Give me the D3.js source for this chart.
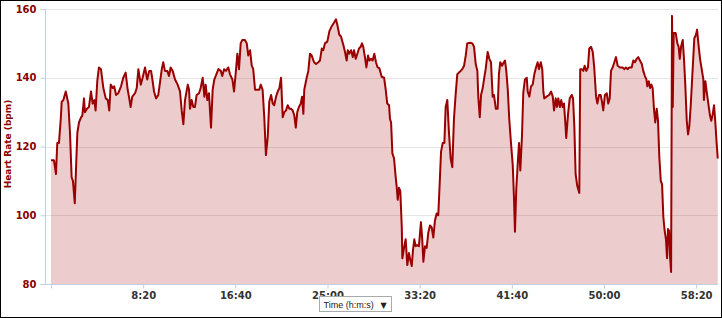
<!DOCTYPE html>
<html>
<head>
<meta charset="utf-8">
<script src="https://cdn.jsdelivr.net/npm/d3@7"></script>
<style>
  html, body { margin: 0; padding: 0; background: #fff; }
  svg { display: block; }
</style>
</head>
<body>
<div id="hrchart"></div>
<script>
// elapsed time in seconds
const timeSec = [0, 16, 27, 34, 43, 53, 58, 67, 80, 94, 103, 112, 119, 129, 136, 143, 152, 163, 170, 179,
  184, 195, 206, 217, 226, 235, 242, 251, 260, 271, 284, 297, 308, 316, 324, 335, 343, 353, 365, 380,
  392, 405, 416, 423, 432, 441, 456, 465, 474, 487, 497, 510, 522, 533, 543, 550, 559, 570, 582, 591,
  601, 609, 618, 631, 640, 649, 660, 673, 687, 700, 709, 718, 727, 742, 749, 754, 763, 772, 781, 790,
  803, 812, 823, 832, 839, 848, 857, 868, 877, 886, 890, 908, 921, 929, 939, 949, 962, 971, 984, 993,
  1004, 1011, 1020, 1029, 1038, 1052, 1062, 1070, 1080, 1089, 1097, 1107, 1116, 1130, 1138, 1148, 1157, 1166, 1176, 1184,
  1194, 1203, 1211, 1221, 1230, 1239, 1248, 1257, 1266, 1275, 1284, 1293, 1302, 1311, 1320, 1328, 1336, 1345, 1355, 1362,
  1369, 1374, 1387, 1396, 1405, 1414, 1427, 1438, 1450, 1459, 1469, 1477, 1486, 1499, 1510, 1523, 1535, 1546, 1553, 1564,
  1573, 1586, 1595, 1604, 1610, 1618, 1628, 1637, 1644, 1653, 1662, 1671, 1680, 1687, 1694, 1703, 1711, 1720, 1727, 1736,
  1745, 1754, 1763, 1772, 1781, 1794, 1807, 1816, 1824, 1834, 1839, 1845, 1852, 1861, 1870, 1875, 1881, 1888, 1895, 1903,
  1906, 1915, 1924, 1933, 1942, 1949, 1957, 1964, 1971, 1978, 1987, 1996, 2007, 2014, 2020, 2029, 2038, 2047, 2056, 2065,
  2074, 2083, 2092, 2101, 2110, 2116, 2125, 2134, 2141, 2150, 2159, 2168, 2177, 2186, 2195, 2204, 2213, 2223, 2231, 2241,
  2250, 2258, 2273, 2286, 2295, 2304, 2313, 2318, 2326, 2333, 2342, 2349, 2358, 2369, 2378, 2387, 2396, 2403, 2413, 2423,
  2430, 2437, 2447, 2456, 2463, 2470, 2478, 2486, 2494, 2505, 2512, 2517, 2524, 2532, 2539, 2546, 2555, 2562, 2571, 2581,
  2586, 2595, 2604, 2613, 2622, 2631, 2640, 2647, 2657, 2665, 2671, 2676, 2689, 2702, 2713, 2722, 2729, 2738, 2745, 2752,
  2761, 2768, 2776, 2783, 2790, 2795, 2805, 2814, 2825, 2832, 2839, 2846, 2855, 2866, 2871, 2879, 2888, 2895, 2904, 2913,
  2920, 2930, 2939, 2947, 2957, 2964, 2973, 2982, 2989, 2996, 3005, 3015, 3023, 3031, 3038, 3047, 3056, 3065, 3074, 3087,
  3101, 3110, 3119, 3129, 3137, 3150, 3159, 3168, 3177, 3186, 3195, 3205, 3213, 3222, 3230, 3235, 3243, 3250, 3257, 3264,
  3271, 3278, 3286, 3293, 3300, 3308, 3315, 3322, 3329, 3336, 3342, 3347, 3353, 3358, 3364, 3369, 3373, 3378, 3389, 3398,
  3405, 3411, 3418, 3427, 3434, 3441, 3449, 3456, 3463, 3470, 3477, 3484, 3490, 3499, 3505, 3512, 3521, 3530, 3539, 3542,
  3550, 3557, 3566, 3575, 3582, 3590, 3597, 3604, 3611, 3617];

// heart rate in bpm
const heartRate = [116, 116, 112, 121, 121, 128, 133, 133.5, 136, 132.5, 124, 111, 110, 103.5, 114, 124, 127, 128.5, 129, 134,
  130, 131, 131.5, 136, 132.5, 133.5, 130.5, 139, 143, 142.5, 137, 134, 133.5, 130.5, 138, 137, 137.5, 135, 135.5, 137.5,
  140, 141.5, 136.5, 134.5, 131.5, 134.5, 135.5, 137, 142.5, 138, 140, 143, 139.5, 142, 142, 139.5, 136, 134, 135, 138.5,
  142.5, 144.5, 142, 142, 140.5, 143, 142, 139.5, 138, 136, 130.5, 126.5, 133.5, 138, 136.5, 131, 133.5, 131.5, 131.5, 135,
  135.5, 137, 140, 134.5, 138, 133.5, 135.5, 125.5, 136.5, 139.5, 140, 142.5, 142, 140.5, 142.5, 142, 143, 141, 139.5, 136,
  142.5, 147, 142.5, 150, 151, 151, 150, 146.5, 148, 143.5, 142.5, 136.5, 136.5, 136.5, 138, 136.5, 128.5, 117.5, 123, 133,
  135, 132.5, 132, 134.5, 136, 137, 140, 128.5, 130, 130.5, 132, 131, 131, 130.5, 129, 125.5, 130, 131.5, 132.5, 134.5,
  129.5, 136.5, 140, 142, 147, 146.5, 144.5, 144, 144.5, 145, 148.5, 148, 150, 150.5, 153.5, 155, 156, 157, 155.5, 152.5,
  152, 149.5, 147.5, 145, 148, 147, 148, 146, 148, 145.5, 147, 148.5, 149, 150, 149, 146, 143, 146.5, 145, 145.5,
  145, 147, 144.5, 143, 142.8, 140.3, 140, 136.5, 132.5, 132, 128, 127, 118, 116.5, 111, 108.5, 104.5, 108, 107, 96.5,
  87.5, 90.5, 93, 85.5, 89, 87, 85.2, 90, 93, 91, 91.3, 91, 98, 93, 86.5, 91, 90.5, 95, 97, 96.5,
  93.5, 98.5, 100.5, 100, 111, 118.5, 121, 121, 131.5, 133.5, 124, 116.5, 114, 128, 135, 141, 141.5, 142, 142.5, 143.5,
  146.5, 150, 150.2, 150, 149, 144, 142, 134.5, 128.5, 135, 137, 139.5, 142.5, 147.5, 145.5, 144.5, 134.5, 135, 131, 131,
  141, 144.5, 143.5, 144.5, 145, 142, 136.5, 128, 122, 114.5, 104.5, 95.2, 107.5, 115, 121, 113, 123, 135.5, 139.5, 140,
  136, 134.5, 137.5, 138, 141, 143, 144.5, 142.5, 144.5, 142.5, 136, 134, 134.5, 135, 136, 134.5, 130.5, 134, 131.5, 134,
  131.5, 133.5, 131.5, 132.5, 127, 122.5, 129.5, 134, 135, 134, 126, 112, 108.5, 106.5, 142.5, 142.5, 142, 143.5, 142, 143,
  148.5, 149, 147.5, 143, 134.5, 132.5, 135, 135, 133, 130.5, 135, 135.5, 132.5, 134, 142, 143, 144.5, 146, 143.5, 143,
  143, 142.5, 143, 142.5, 143, 143, 145, 144.5, 145.5, 146, 145, 144, 142, 140.5, 139.5, 137.5, 139, 137, 138, 137,
  131, 127, 131, 127.5, 117, 110, 109, 99.5, 95.5, 93, 87.5, 96, 95.5, 88, 83.5, 158, 131.5, 153, 153, 150,
  149, 145.5, 149, 151, 145.5, 138, 127.5, 123.5, 126, 131.5, 138.5, 145.5, 151.5, 152.5, 154, 150, 145.5, 142.5, 139.5, 133.5,
  139, 136, 132.5, 129, 127.5, 129.5, 132, 127, 121, 116.5];

const yTicks = [80, 100, 120, 140, 160];
const xTicks = [0, 500, 1000, 1500, 2000, 2500, 3000, 3500];
const xTitle = "Time (h:m:s)";
const yTitle = "Heart Rate (bpm)";

const width = 722, height = 318;
const plot = {left: 51, right: 718, top: 9, bottom: 284};

const svg = d3.select("#hrchart").append("svg")
    .attr("width", width)
    .attr("height", height);

const data = timeSec.map((t, i) => ({t: t, hr: heartRate[i]}));

const x = d3.scaleLinear()
    .domain([0, 3617])
    .range([plot.left, plot.left + 3617 * 553 / 3000]);

const y = d3.scaleLinear()
    .domain([80, 160])
    .range([plot.bottom, plot.top]);

// format seconds as m:ss
function fmtTime(s) {
    let m = Math.floor(s / 60), sec = s % 60;
    return m + ":" + (sec < 10 ? "0" : "") + sec;
}

// horizontal grid lines
svg.append("g")
    .selectAll("line")
    .data(yTicks.filter(d => d > 80))
    .enter().append("line")
    .attr("x1", 45)
    .attr("x2", plot.right)
    .attr("y1", d => Math.round(y(d)) + 0.5)
    .attr("y2", d => Math.round(y(d)) + 0.5)
    .attr("stroke", "#e6e6e6")
    .attr("stroke-width", 1);

// area + line
svg.append("path")
    .datum(data)
    .attr("fill", "rgba(160, 0, 0, 0.2)")
    .attr("d", d3.area()
        .x(d => x(d.t))
        .y0(y(80))
        .y1(d => y(d.hr)));

svg.append("path")
    .datum(data)
    .attr("fill", "none")
    .attr("stroke", "#9b0000")
    .attr("stroke-width", 2)
    .attr("stroke-linejoin", "round")
    .attr("d", d3.line()
        .x(d => x(d.t))
        .y(d => y(d.hr)));

// y axis
let yAxis = svg.append("g")
    .attr("transform", "translate(45.5,0)")
    .call(d3.axisLeft(y).tickValues(yTicks).tickSize(5).tickPadding(4));
yAxis.select(".domain").attr("stroke", "#c0d0e0").attr("d", "M0," + plot.top + "V" + (plot.bottom + 0.5));
yAxis.selectAll(".tick line").attr("stroke", "#c0d0e0");
yAxis.selectAll(".tick text")
    .attr("fill", "#8b0000")
    .style("font-family", "DejaVu Sans")
    .style("font-weight", "bold")
    .style("font-size", "10px");

// x axis
let xAxis = svg.append("g")
    .attr("transform", "translate(0," + (plot.bottom + 0.5) + ")")
    .call(d3.axisBottom(x).tickValues(xTicks).tickSize(4).tickPadding(3)
        .tickFormat(d => d === 0 ? "" : fmtTime(d)));
xAxis.select(".domain").attr("stroke", "#c0d0e0").attr("d", "M45," + 0 + "H" + plot.right);
xAxis.selectAll(".tick line").attr("stroke", "#c0d0e0");
xAxis.selectAll(".tick text")
    .attr("fill", "#333")
    .style("font-family", "DejaVu Sans")
    .style("font-weight", "bold")
    .style("font-size", "10px");

// y title
svg.append("text")
    .attr("transform", "translate(11,144) rotate(-90)")
    .attr("text-anchor", "middle")
    .attr("fill", "#8b0000")
    .style("font-family", "DejaVu Sans")
    .style("font-weight", "bold")
    .style("font-size", "9px")
    .text(yTitle);

// time selector box
let sel = svg.append("g").attr("transform", "translate(319.5,296.5)");
sel.append("rect")
    .attr("width", 72)
    .attr("height", 15)
    .attr("fill", "#fff")
    .attr("stroke", "#aaa");
sel.append("text")
    .attr("x", 4)
    .attr("y", 11)
    .attr("fill", "#222")
    .style("font-family", "Liberation Sans")
    .style("font-size", "9px")
    .text(xTitle);
sel.append("text")
    .attr("x", 61)
    .attr("y", 11)
    .attr("fill", "#222")
    .style("font-family", "DejaVu Sans")
    .style("font-size", "8px")
    .text("\u25BC");

// outer frame
svg.append("rect")
    .attr("x", 0.5)
    .attr("y", 0.5)
    .attr("width", width - 1)
    .attr("height", height - 1)
    .attr("fill", "none")
    .attr("stroke", "#000");
</script>
</body>
</html>
